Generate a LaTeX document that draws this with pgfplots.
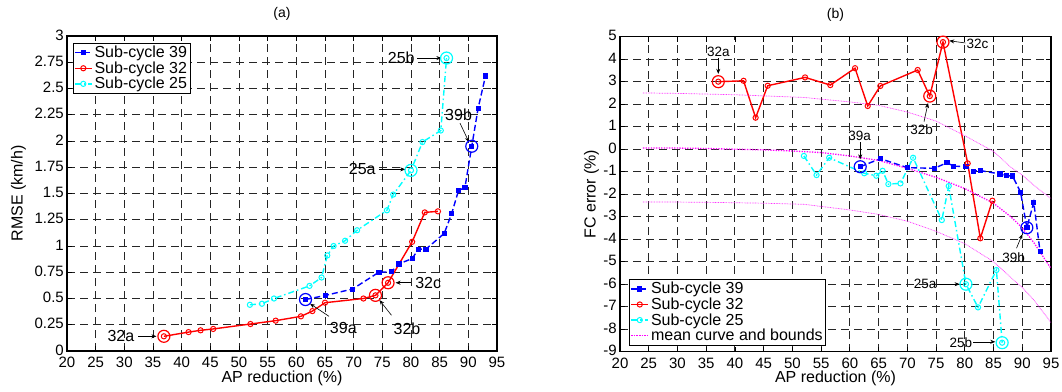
\documentclass[border=0pt]{standalone}
\usepackage{fontspec}
\setmainfont{Liberation Sans}
\usepackage{pgfplots}
\pgfplotsset{compat=1.18}
\usetikzlibrary{arrows.meta}
\definecolor{mblue}{RGB}{0,0,255}
\definecolor{mred}{RGB}{255,0,0}
\definecolor{mcyan}{RGB}{0,255,255}
\definecolor{mmag}{RGB}{255,0,255}
\pgfplotsset{
  mystyle/.style={
    scale only axis, width=430pt, height=315pt,
    xmin=20, xmax=95, xtick={20,25,30,35,40,45,50,55,60,65,70,75,80,85,90,95},
    grid=major,
    major grid style={black!85, dash pattern=on 8pt off 5pt, line width=0.9pt},
    tick align=inside, major tick length=5pt,
    tick style={black, line width=0.8pt},
    axis line style={line width=1.2pt},
    /pgf/number format/assume math mode=true,
    tick label style={font=\fontsize{15}{17}\selectfont},
    xticklabel style={inner sep=3pt, yshift=-3pt},
    yticklabel style={inner sep=3pt, yshift=1pt},
    label style={font=\fontsize{16}{18}\selectfont},
    title style={font=\fontsize{14}{16}\selectfont, at={(axis description cs:0.5,1.051)}, anchor=center},
    xlabel style={at={(axis description cs:0.5,-0.086)}, anchor=center},
    legend style={font=\fontsize{16}{19}\selectfont, draw=black, line width=1pt, fill=white, cells={anchor=west}, inner sep=1pt, row sep=-1.5pt},
    legend cell align=left,
  },
  s39/.style={mblue, line width=1.4pt, dash pattern=on 6pt off 3pt, mark=square*, mark size=2.1pt, mark options={solid, line width=0.8pt}},
  s32/.style={mred, line width=1.4pt, solid, mark=o, mark size=2.6pt, mark options={solid, line width=1pt}},
  s25/.style={mcyan, line width=1.4pt, dash pattern=on 6pt off 3pt on 1.5pt off 3pt, mark=o, mark size=2.6pt, mark options={solid, line width=1pt}},
  ring/.style={only marks, mark=o, mark size=6pt, mark options={solid, line width=1.2pt}, forget plot},
}
\begin{document}
\begin{tikzpicture}
\path[use as bounding box] (0,0) rectangle (1062pt,391pt);
% ---------------- (a) ----------------
\begin{axis}[mystyle, at={(67pt,40pt)}, anchor=south west,
  ymin=0, ymax=3,
  ytick={0,0.25,0.5,0.75,1,1.25,1.5,1.75,2,2.25,2.5,2.75,3},
  yticklabels={0,0.25,0.5,0.75,1,1.25,1.5,1.75,2,2.25,2.5,2.75,3},
  title={(a)}, xlabel={AP reduction (\%)}, ylabel={RMSE (km/h)},
  ylabel style={at={(axis description cs:-0.113,0.5)}, anchor=center},
  legend style={at={(0.013,0.979)}, anchor=north west}]
\addplot[s39] coordinates {(61.6,0.49)(65.1,0.53)(69.8,0.59)(74.4,0.75)(76.6,0.755)(77.9,0.83)(80.2,0.88)(81.3,0.97)(82.6,0.97)(85.8,1.12)(87.1,1.31)(88.3,1.53)(89.4,1.555)(90.6,1.95)(91.7,2.31)(93.0,2.62)};
\addlegendentry{Sub-cycle 39}
\addplot[s32] coordinates {(36.9,0.14)(41.2,0.18)(43.3,0.197)(45.5,0.21)(52.0,0.257)(56.4,0.289)(60.8,0.33)(62.8,0.38)(65.0,0.46)(71.7,0.50)(73.8,0.53)(76.0,0.65)(80.2,1.04)(82.4,1.32)(84.7,1.33)};
\addlegendentry{Sub-cycle 32}
\addplot[s25] coordinates {(51.9,0.44)(54.0,0.45)(56.1,0.50)(62.3,0.62)(64.4,0.70)(65.4,0.91)(66.5,1.00)(68.5,1.05)(70.6,1.15)(75.8,1.34)(76.9,1.49)(80.0,1.72)(82.0,1.99)(85.2,2.10)(86.2,2.79)};
\addlegendentry{Sub-cycle 25}
\addplot[ring, mblue] coordinates {(61.6,0.49)(90.6,1.95)};
\addplot[ring, mred] coordinates {(36.9,0.14)(73.8,0.53)(76.0,0.65)};
\addplot[ring, mcyan] coordinates {(80.0,1.72)(86.2,2.79)};
\begin{scope}[font=\fontsize{16}{18}\selectfont, -{Stealth[length=5pt,width=4pt]}, line width=0.6pt]
\node at (axis cs:29.4,0.14) {32a};
\draw (axis cs:32.4,0.14) -- (axis cs:35.6,0.14);
\node at (axis cs:68.2,0.215) {39a};
\draw (axis cs:65.7,0.33) -- (axis cs:62.4,0.45);
\node at (axis cs:79.3,0.215) {32b};
\draw (axis cs:76.6,0.34) -- (axis cs:74.5,0.485);
\node at (axis cs:83.0,0.645) {32c};
\draw (axis cs:80.0,0.65) -- (axis cs:77.3,0.65);
\node at (axis cs:88.3,2.25) {39b};
\draw (axis cs:88.55,2.17) -- (axis cs:90.1,1.99);
\node at (axis cs:71.5,1.73) {25a};
\draw (axis cs:74.4,1.73) -- (axis cs:79.0,1.73);
\node at (axis cs:78.3,2.79) {25b};
\draw (axis cs:81.1,2.79) -- (axis cs:85.3,2.79);
\end{scope}
\end{axis}
% ---------------- (b) ----------------
\begin{axis}[mystyle, at={(620pt,39.3pt)}, anchor=south west, width=431pt,
  ymin=-9, ymax=5,
  ytick={-9,-8,-7,-6,-5,-4,-3,-2,-1,0,1,2,3,4,5},
  yticklabels={-9,-8,-7,-6,-5,-4,-3,-2,-1,0,1,2,3,4,5},
  title={(b)}, xlabel={AP reduction (\%)}, ylabel={FC error (\%)},
  ylabel style={at={(axis description cs:-0.066,0.5)}, anchor=center},
  legend style={at={(0.021,0.019)}, anchor=south west}]
\addplot[s39] coordinates {(61.8,-0.78)(65.3,-0.42)(70.0,-0.82)(74.7,-0.85)(76.9,-0.6)(78.0,-0.75)(80.2,-0.78)(81.5,-0.97)(82.7,-0.95)(86.1,-1.10)(87.2,-1.18)(88.3,-1.19)(89.7,-1.91)(90.8,-3.49)(92.0,-2.36)(93.1,-4.56)};
\addlegendentry{Sub-cycle 39}
\addplot[s32] coordinates {(37.1,3.0)(41.5,3.04)(43.6,1.4)(45.7,2.82)(52.2,3.19)(56.6,2.85)(60.9,3.60)(63.1,1.92)(65.3,2.81)(71.8,3.52)(73.9,2.36)(76.2,4.76)(80.5,-0.63)(82.7,-3.96)(84.8,-2.29)};
\addlegendentry{Sub-cycle 32}
\addplot[s25] coordinates {(52.0,-0.30)(54.2,-1.15)(56.4,-0.38)(62.5,-1.07)(64.6,-1.18)(65.7,-0.96)(66.7,-1.55)(68.8,-1.52)(71.0,-0.38)(76.0,-3.15)(77.2,-1.64)(80.2,-6.0)(82.3,-7.03)(85.5,-5.37)(86.5,-8.6)};
\addlegendentry{Sub-cycle 25}
\addplot[mmag, line width=1.3pt, dash pattern=on 1.3pt off 1.3pt] coordinates {(24,0.05)(30,0.05)(35,0.03)(40,0.0)(45,-0.03)(50,-0.08)(55,-0.15)(60,-0.3)(65,-0.5)(70,-0.85)(75,-1.25)(80,-1.75)(85,-2.4)(88,-3.0)(90,-3.5)(92,-4.15)(95,-5.3)};
\addlegendentry{mean curve and bounds}
\addplot[mmag!80, line width=0.7pt, dash pattern=on 0.8pt off 0.8pt, forget plot] coordinates {(24,2.5)(30,2.48)(35,2.45)(40,2.42)(45,2.37)(52,2.3)(60,2.1)(65,1.95)(70,1.65)(75,1.25)(80,0.6)(85,-0.1)(88,-0.8)(90,-1.15)(92,-1.6)(95,-2.2)};
\addplot[mmag!80, line width=0.7pt, dash pattern=on 0.8pt off 0.8pt, forget plot] coordinates {(24,-2.35)(30,-2.35)(35,-2.36)(40,-2.38)(45,-2.4)(52,-2.45)(60,-2.7)(65,-2.9)(70,-3.2)(75,-3.65)(80,-4.2)(85,-5.0)(88,-5.7)(90,-6.15)(92,-6.7)(95,-7.7)};
\addplot[ring, mblue] coordinates {(61.8,-0.78)(90.8,-3.49)};
\addplot[ring, mred] coordinates {(37.1,3.0)(73.9,2.36)(76.2,4.76)};
\addplot[ring, mcyan] coordinates {(80.2,-6.0)(86.5,-8.6)};
\begin{scope}[font=\fontsize{13.5}{15}\selectfont, -{Stealth[length=5pt,width=4pt]}, line width=0.6pt]
\node at (axis cs:37.1,4.33) {32a};
\draw (axis cs:37.1,4.05) -- (axis cs:37.1,3.35);
\node at (axis cs:61.7,0.59) {39a};
\draw (axis cs:61.8,0.3) -- (axis cs:61.8,-0.45);
\node at (axis cs:72.5,0.88) {32b};
\draw (axis cs:72.9,1.22) -- (axis cs:73.6,2.05);
\node at (axis cs:82.2,4.7) {32c};
\draw (axis cs:80.1,4.72) -- (axis cs:77.3,4.82);
\node at (axis cs:88.5,-4.8) {39b};
\draw (axis cs:89.0,-4.4) -- (axis cs:90.0,-3.78);
\node at (axis cs:73.1,-6.0) {25a};
\draw (axis cs:75.2,-6.0) -- (axis cs:79.1,-6.0);
\node at (axis cs:79.3,-8.58) {25b};
\draw (axis cs:81.5,-8.56) -- (axis cs:85.3,-8.56);
\end{scope}
\end{axis}
\end{tikzpicture}
\end{document}
